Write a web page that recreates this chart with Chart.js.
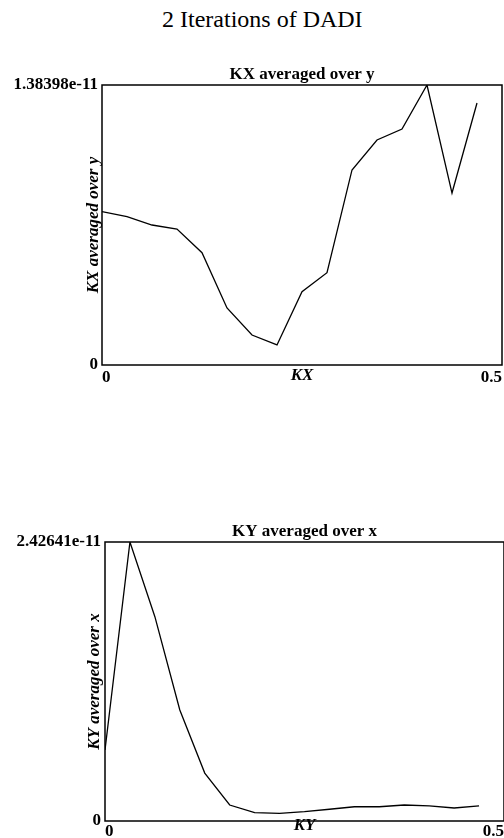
<!DOCTYPE html>
<html>
<head>
<meta charset="utf-8">
<script src="https://cdn.jsdelivr.net/npm/chart.js@4.4.0/dist/chart.umd.min.js"></script>
<style>
  body { margin: 0; width: 504px; height: 838px; background: #fff; position: relative; overflow: hidden; }
  #pageTitle { position: absolute; left: 162px; top: 7px; font: 24px/24px "Liberation Serif", "Times New Roman", serif; color: #000; white-space: nowrap; }
  .box { position: absolute; left: 0; width: 504px; }
</style>
</head>
<body>
<div id="pageTitle">2 Iterations of DADI</div>
<div class="box" style="top:0;height:400px"><canvas id="kxChart"></canvas></div>
<div class="box" style="top:440px;height:398px"><canvas id="kyChart"></canvas></div>
<script>
// wavenumbers (same for both plots)
const kValues = [0, 0.03125, 0.0625, 0.09375, 0.125, 0.15625, 0.1875, 0.21875,
                 0.25, 0.28125, 0.3125, 0.34375, 0.375, 0.40625, 0.4375, 0.46875];

// KX averaged over y
const kxAvg = [7.58e-12, 7.33e-12, 6.92e-12, 6.72e-12, 5.55e-12, 2.82e-12, 1.48e-12, 0.99e-12,
               3.62e-12, 4.56e-12, 9.64e-12, 11.12e-12, 11.66e-12, 13.8398e-12, 8.50e-12, 12.95e-12];
const kxMax = 1.38398e-11;

// KY averaged over x
const kyAvg = [6.18e-12, 24.2641e-12, 17.77e-12, 9.65e-12, 4.17e-12, 1.39e-12, 0.72e-12, 0.67e-12,
               0.81e-12, 1.02e-12, 1.24e-12, 1.24e-12, 1.39e-12, 1.32e-12, 1.13e-12, 1.32e-12];
const kyMax = 2.42641e-11;

const xTicks = [0, 0.5];

const serif = '"Liberation Serif", "Times New Roman", serif';

// draws the closed frame round the plot area
const frame = {
  id: 'frame',
  afterDatasetsDraw(chart) {
    const { ctx, chartArea: a } = chart;
    ctx.save();
    ctx.strokeStyle = '#000';
    ctx.lineWidth = 1.5;
    ctx.strokeRect(a.left, a.top, a.right - a.left, a.bottom - a.top);
    ctx.restore();
  }
};

function makeChart(id, o) {
  const points = o.values.map((v, i) => ({ x: kValues[i], y: v }));
  return new Chart(document.getElementById(id), {
    type: 'line',
    data: {
      datasets: [{
        data: points,
        borderColor: '#000',
        borderWidth: 1.3,
        pointRadius: 0,
        tension: 0,
        fill: false
      }]
    },
    options: {
      responsive: true,
      maintainAspectRatio: false,
      animation: false,
      layout: { padding: { left: 0, right: o.padRight, top: 0, bottom: 0 } },
      plugins: {
        legend: { display: false },
        tooltip: { enabled: false },
        title: {
          display: true,
          text: o.title,
          fullSize: false,
          color: '#000',
          font: { family: serif, size: 17, weight: 'bold', lineHeight: 1.2 },
          padding: { top: o.titleTop, bottom: 0 }
        }
      },
      scales: {
        x: {
          type: 'linear',
          min: 0,
          max: 0.5,
          grid: { display: false, drawTicks: false },
          border: { display: false },
          afterBuildTicks: s => { s.ticks = xTicks.map(v => ({ value: v })); },
          afterFit: s => { s.height = o.xHeight; },
          ticks: {
            align: 'inner',
            maxRotation: 0,
            padding: o.xTickPad,
            color: '#000',
            font: { family: serif, size: 17, weight: 'bold' },
            callback: v => String(v)
          },
          title: {
            display: true,
            text: o.xTitle,
            color: '#000',
            font: { family: serif, size: 17, weight: 'bold', style: 'italic', lineHeight: 1.2 },
            padding: { top: 0, bottom: o.xTitleBottom }
          }
        },
        y: {
          min: 0,
          max: o.max,
          grid: { display: false, drawTicks: false },
          border: { display: false },
          afterBuildTicks: s => { s.ticks = [{ value: 0 }, { value: o.max }]; },
          afterFit: s => { s.width = o.yWidth; },
          ticks: {
            padding: 4,
            color: '#000',
            font: { family: serif, size: 17, weight: 'bold' },
            callback: v => (v === 0 ? '0' : v.toPrecision(6))
          },
          title: {
            display: true,
            text: o.yTitle,
            color: '#000',
            font: { family: serif, size: 17, weight: 'bold', style: 'italic', lineHeight: 1.2 },
            padding: { top: o.yTitleTop, bottom: 0 }
          }
        }
      }
    },
    plugins: [frame]
  });
}

makeChart('kxChart', {
  values: kxAvg, max: kxMax,
  title: 'KX averaged over y', xTitle: 'KX', yTitle: 'KX averaged over y',
  titleTop: 64.6, padRight: 1,
  yWidth: 102, yTitleTop: 83.8,
  xHeight: 35, xTickPad: 2, xTitleBottom: 13.8
});

makeChart('kyChart', {
  values: kyAvg, max: kyMax,
  title: 'KY averaged over x', xTitle: 'KY', yTitle: 'KY averaged over x',
  titleTop: 81.6, padRight: 0,
  yWidth: 105, yTitleTop: 84.8,
  xHeight: 17, xTickPad: 0, xTitleBottom: 1.8
});
</script>
</body>
</html>
